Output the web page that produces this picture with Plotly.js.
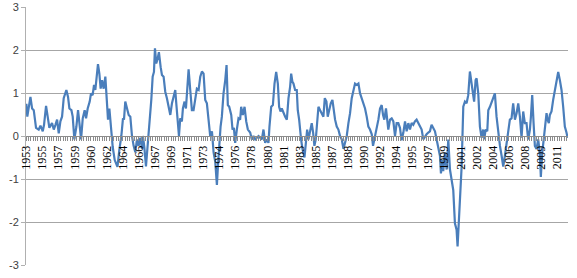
<!DOCTYPE html>
<html>
<head>
<meta charset="utf-8">
<script src="https://cdn.plot.ly/plotly-3.0.1.min.js"></script>
<style>
html,body{margin:0;padding:0;background:#fff;}
#chart{width:577px;height:278px;}
</style>
</head>
<body>
<div id="chart"></div>
<script>
// Monthly series (decimal year, value)
var years = [
1953.75,1953.85,1954.19,1954.37,1954.55,1954.80,1955.09,1955.28,1955.53,1955.67,
1955.89,1956.11,1956.25,1956.54,1956.73,1956.91,1957.09,1957.27,1957.45,1957.63,
1957.81,1958.10,1958.28,1958.43,1958.65,1958.79,1958.97,1959.19,1959.37,1959.52,
1959.70,1959.88,1960.09,1960.24,1960.42,1960.64,1960.78,1960.96,1961.11,1961.25,
1961.40,1961.54,1961.69,1961.83,1961.98,1962.16,1962.34,1962.52,1962.63,1962.78,
1962.99,1963.14,1963.36,1963.66,1963.86,1964.08,1964.26,1964.37,1964.51,1964.70,
1964.88,1965.06,1965.24,1965.42,1965.60,1965.78,1965.96,1966.15,1966.33,1966.43,
1966.58,1966.76,1966.94,1967.12,1967.34,1967.49,1967.63,1967.74,1967.88,1968.03,
1968.17,1968.36,1968.50,1968.68,1968.86,1969.04,1969.22,1969.41,1969.59,1969.77,
1969.95,1970.06,1970.20,1970.35,1970.49,1970.67,1970.78,1970.96,1971.11,1971.25,
1971.40,1971.58,1971.76,1971.94,1972.12,1972.30,1972.49,1972.67,1972.85,1973.03,
1973.21,1973.39,1973.57,1973.75,1973.94,1974.12,1974.30,1974.48,1974.59,1974.73,
1974.88,1975.02,1975.20,1975.39,1975.53,1975.67,1975.82,1976.04,1976.18,1976.33,
1976.47,1976.65,1976.83,1977.01,1977.12,1977.30,1977.49,1977.67,1977.85,1978.10,
1978.28,1978.46,1978.65,1978.83,1979.01,1979.19,1979.37,1979.55,1979.73,1979.91,
1980.09,1980.20,1980.39,1980.57,1980.75,1980.93,1981.11,1981.25,1981.40,1981.54,
1981.72,1981.91,1982.09,1982.27,1982.45,1982.56,1982.70,1982.81,1982.99,1983.17,
1983.28,1983.43,1983.64,1983.79,1984.01,1984.15,1984.30,1984.44,1984.62,1984.80,
1984.95,1985.09,1985.24,1985.38,1985.53,1985.71,1985.89,1986.07,1986.22,1986.40,
1986.54,1986.69,1986.87,1987.05,1987.20,1987.34,1987.52,1987.70,1987.88,1988.07,
1988.25,1988.43,1988.61,1988.79,1988.97,1989.15,1989.33,1989.51,1989.70,1989.88,
1990.06,1990.24,1990.42,1990.60,1990.78,1990.96,1991.14,1991.33,1991.47,1991.62,
1991.76,1991.91,1992.05,1992.23,1992.41,1992.56,1992.70,1992.88,1993.13,1993.32,
1993.50,1993.68,1993.86,1994.04,1994.22,1994.40,1994.58,1994.77,1994.95,1995.13,
1995.31,1995.49,1995.67,1995.85,1996.03,1996.21,1996.40,1996.58,1996.76,1996.94,
1997.12,1997.30,1997.48,1997.66,1997.84,1998.03,1998.21,1998.39,1998.57,1998.75,
1998.86,1999.00,1999.11,1999.29,1999.48,1999.66,1999.84,2000.02,2000.20,2000.38,
2000.56,2000.67,2000.82,2000.96,2001.11,2001.29,2001.47,2001.65,2001.83,2002.01,
2002.19,2002.35,2002.47,2002.63,2002.74,2002.92,2002.99,2003.10,2003.28,2003.46,
2003.57,2003.72,2003.90,2004.01,2004.19,2004.37,2004.55,2004.73,2004.91,2005.09,
2005.28,2005.46,2005.64,2005.82,2006.00,2006.18,2006.36,2006.54,2006.72,2006.91,
2007.09,2007.27,2007.45,2007.63,2007.81,2007.99,2008.17,2008.35,2008.54,2008.65,
2008.79,2008.94,2009.08,2009.26,2009.44,2009.62,2009.73,2009.88,2010.02,2010.17,
2010.35,2010.46,2010.60,2010.71,2010.89,2011.07,2011.25,2011.43,2011.62,2011.80,
2011.98,2012.16,2012.34,2012.52,2012.64
];
var values = [
0.75,0.45,0.91,0.64,0.60,0.19,0.15,0.24,0.11,0.26,
0.70,0.41,0.19,0.30,0.15,0.26,0.38,0.06,0.34,0.45,
0.88,1.07,0.91,0.64,0.60,0.45,-0.08,0.22,0.60,0.30,
-0.08,0.41,0.60,0.41,0.64,0.80,0.99,0.95,1.19,1.07,
1.38,1.67,1.45,1.10,1.30,1.10,1.38,0.68,0.38,0.64,
0.11,-0.25,-0.56,-0.72,-0.33,0.00,0.41,0.38,0.80,0.64,
0.49,0.45,0.00,-0.23,-0.38,-0.08,-0.23,-0.04,-0.30,0.00,
-0.25,-0.71,-0.25,0.15,0.84,1.38,1.49,2.04,1.69,1.80,
1.95,1.60,1.42,1.38,1.03,0.88,0.68,0.49,0.76,0.91,
1.07,0.76,0.45,0.00,0.41,0.34,0.64,0.80,0.64,1.07,
1.55,1.07,0.60,0.60,0.88,1.10,1.07,1.38,1.50,1.45,
0.84,0.76,0.38,0.00,0.11,-0.38,-0.60,-1.14,-0.71,-0.23,
0.22,0.45,0.99,1.30,1.65,0.72,0.68,0.49,0.15,0.19,
-0.16,0.15,0.41,0.38,0.68,0.49,0.68,0.34,0.15,0.08,
-0.08,0.00,-0.08,-0.04,0.00,-0.04,-0.08,0.15,-0.16,-0.08,
-0.16,0.22,0.68,0.72,1.22,1.49,1.22,0.68,0.57,0.64,
0.53,0.45,0.38,0.88,1.15,1.45,1.26,1.22,1.07,1.07,
0.60,0.38,-0.08,-0.30,-0.50,-0.23,0.15,-0.08,0.15,0.30,
0.08,-0.23,-0.08,0.38,0.68,0.60,0.53,0.45,0.88,0.80,
0.45,0.60,0.76,0.84,0.53,0.38,0.22,0.15,0.00,-0.08,
-0.30,-0.16,0.00,0.30,0.53,0.88,1.03,1.22,1.19,1.22,
0.99,0.88,0.72,0.64,0.45,0.22,0.15,0.04,-0.23,-0.08,
0.04,0.19,0.38,0.64,0.72,0.49,0.38,0.64,0.15,0.38,
0.41,0.34,0.00,0.30,0.30,0.19,-0.10,0.08,0.34,0.11,
0.30,0.15,0.30,0.26,0.34,0.38,0.30,0.26,0.15,-0.08,
0.00,0.04,0.08,0.11,0.26,0.19,0.11,-0.08,-0.30,-0.46,
-0.87,-0.56,-0.82,-0.40,-0.78,-0.08,-0.78,-1.02,-1.26,-2.03,
-2.18,-2.57,-1.95,-1.41,-0.71,0.68,0.80,0.76,0.95,1.50,
1.20,1.05,0.80,1.30,1.34,0.99,0.68,0.22,-0.04,0.15,
-0.08,0.15,0.11,0.60,0.68,0.80,0.88,0.99,0.45,0.08,
-0.23,-0.46,-0.71,-0.46,-0.16,0.08,0.38,0.41,0.76,0.38,
0.53,0.76,0.45,-0.04,0.57,0.30,0.30,-0.08,0.15,0.45,
0.95,0.30,-0.23,-0.30,-0.08,-0.40,-0.95,-0.40,-0.08,0.15,
0.53,0.38,0.30,0.49,0.57,0.84,1.03,1.22,1.49,1.30,
1.07,0.68,0.22,0.08,-0.04
];
// Category-axis labels (one every 21 months from Oct 1953)
var tickLabels = ['1953','1955','1957','1959','1960','1962','1964','1966','1967','1969',
'1971','1973','1974','1976','1978','1980','1981','1983','1985','1987','1988','1990',
'1992','1994','1995','1997','1999','2001','2002','2004','2006','2008','2009','2011'];
var yTicks = [-3,-2,-1,0,1,2,3];

var startYear = 1953.75, labelStepMonths = 21;
var tickVals = tickLabels.map(function(_, i){ return startYear + i*labelStepMonths/12; });

var trace = {
  x: years, y: values, type: 'scatter', mode: 'lines',
  line: {color: '#4A7EBB', width: 2.2},
  hoverinfo: 'skip'
};

var layout = {
  width: 577, height: 278,
  margin: {l: 26, r: 9, t: 7, b: 13, pad: 0},
  paper_bgcolor: '#ffffff', plot_bgcolor: '#ffffff',
  showlegend: false,
  xaxis: {
    range: [1953.707, 2012.685],
    anchor: 'free', position: 0.5,
    tickmode: 'array', tickvals: tickVals, ticktext: tickLabels,
    tickangle: -90,
    tickfont: {family: 'Liberation Serif', size: 12, color: '#000000'},
    ticks: 'outside', ticklen: 4, tickcolor: '#8c8c8c', tickwidth: 1,
    minor: {tickmode: 'linear', tick0: startYear, dtick: 0.25, ticks: 'outside', ticklen: 4, tickcolor: '#8c8c8c', tickwidth: 1, showgrid: false},
    showline: true, linecolor: '#8c8c8c', linewidth: 1,
    showgrid: false, zeroline: false, fixedrange: true
  },
  yaxis: {
    range: [-3, 3],
    tickmode: 'array', tickvals: yTicks,
    ticktext: yTicks.map(String),
    tickfont: {family: 'Liberation Sans', size: 11, color: '#404040'},
    ticks: 'outside', ticklen: 4, tickcolor: '#b0b0b0',
    showline: true, linecolor: '#b0b0b0', linewidth: 1,
    showgrid: true, gridcolor: '#a6a6a6', gridwidth: 1,
    zeroline: false, fixedrange: true
  }
};

Plotly.newPlot('chart', [trace], layout, {staticPlot: true, displayModeBar: false});
</script>
</body>
</html>
